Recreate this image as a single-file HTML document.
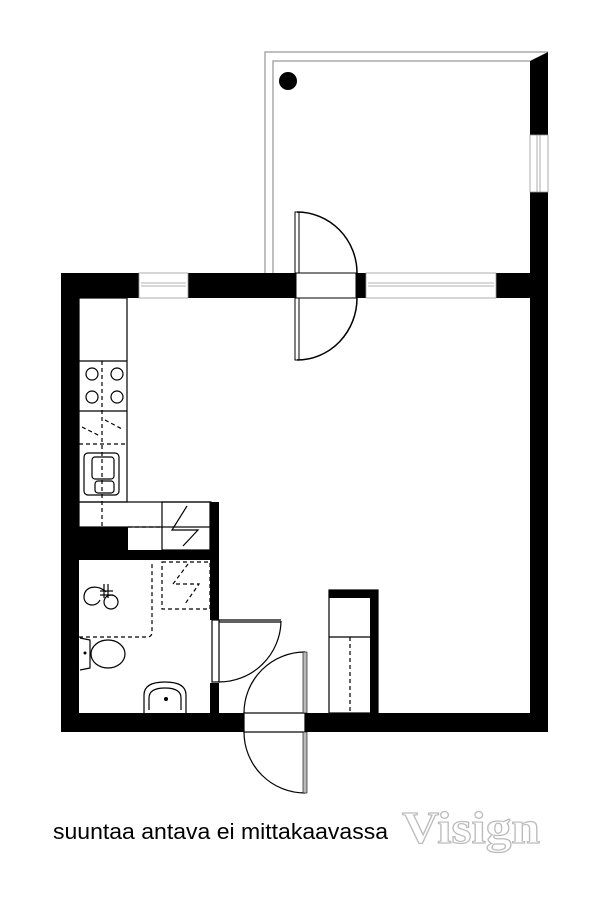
<!DOCTYPE html>
<html><head><meta charset="utf-8"><style>
html,body{margin:0;padding:0;background:#fff;}
svg{display:block}
</style></head><body>
<svg width="600" height="906" viewBox="0 0 600 906" xmlns="http://www.w3.org/2000/svg">
<rect width="600" height="906" fill="#fff"/>
<polyline points="265,273 265,52 548,52" fill="none" stroke="#aaa" stroke-width="1.5"/>
<polyline points="273,273 273,61 530,61" fill="none" stroke="#aaa" stroke-width="1.5"/>
<polygon points="530,61 548,52 548,135 530,135" fill="#000"/>
<rect x="530" y="192" width="18" height="540" fill="#000"/>
<rect x="530" y="135" width="18" height="57" fill="#fff" stroke="#999" stroke-width="0.8"/>
<line x1="537" y1="135" x2="537" y2="192" stroke="#999" stroke-width="0.8"/>
<line x1="540" y1="135" x2="540" y2="192" stroke="#999" stroke-width="0.8"/>
<circle cx="288" cy="81" r="9" fill="#000"/>
<rect x="61" y="273" width="78" height="25" fill="#000"/>
<rect x="188" y="273" width="108" height="25" fill="#000"/>
<rect x="356" y="273" width="10" height="25" fill="#000"/>
<rect x="496" y="273" width="40" height="25" fill="#000"/>
<rect x="61" y="273" width="18" height="459" fill="#000"/>
<rect x="61" y="713" width="183" height="19" fill="#000"/>
<rect x="305" y="713" width="243" height="19" fill="#000"/>
<g stroke="#999" stroke-width="0.8" fill="none">
<rect x="139" y="273" width="49" height="25"/>
<line x1="141" y1="283" x2="186" y2="283"/><line x1="141" y1="286" x2="186" y2="286"/>
<rect x="366" y="273" width="130" height="25"/>
<line x1="368" y1="283" x2="494" y2="283"/><line x1="368" y1="286" x2="494" y2="286"/>
</g>
<g stroke="#000" stroke-width="1.5" fill="none">
<rect x="296" y="273" width="60" height="25" stroke-width="1"/>
<rect x="295" y="212" width="4" height="61" stroke-width="1"/>
<path d="M297,212 A60,61 0 0 1 357,273"/>
<rect x="295" y="298" width="4" height="62" stroke-width="1"/>
<path d="M297,360 A60,62 0 0 0 357,298"/>
</g>
<g stroke="#000" stroke-width="1.2" fill="none">
<rect x="79" y="298" width="48" height="204"/>
<line x1="79" y1="361" x2="127" y2="361"/>
<line x1="79" y1="411" x2="127" y2="411"/>
<circle cx="92" cy="374" r="6"/><circle cx="117" cy="374" r="6"/>
<circle cx="92" cy="397" r="6"/><circle cx="117" cy="397" r="6"/>
<rect x="84" y="453" width="35" height="42" rx="4"/>
<rect x="92" y="457" width="22" height="22" rx="3"/>
<rect x="95" y="481" width="19" height="12" rx="3"/>
<rect x="79" y="502" width="132" height="25"/>
<rect x="162" y="502" width="48" height="48"/>
<polyline points="187,506 172,530 198,530 183,546"/>
</g>
<g stroke="#000" stroke-width="1.2" fill="none" stroke-dasharray="4,3">
<line x1="102" y1="361" x2="102" y2="527"/>
<line x1="79" y1="444" x2="127" y2="444"/>
<line x1="82" y1="427" x2="100" y2="436"/>
<line x1="105" y1="420" x2="122" y2="429"/>
<line x1="128" y1="527" x2="162" y2="527"/>
</g>
<rect x="79" y="527" width="49" height="23" fill="#000"/>
<rect x="210" y="502" width="9" height="118" fill="#000"/>
<rect x="79" y="550" width="140" height="10" fill="#000"/>
<rect x="210" y="683" width="9" height="30" fill="#000"/>
<g stroke="#000" stroke-width="1.2" fill="none" stroke-dasharray="4,3">
<path d="M79,637 L147,637 Q152,637 152,632 L152,562"/>
<rect x="162" y="562" width="48" height="47"/>
<polyline points="188,564 173,584 199,584 185,604"/>
</g>
<g stroke="#000" stroke-width="1.2" fill="none">
<path d="M106,592 C98,584 84,586 84,597 C84,606 96,608 100,600"/>
<circle cx="111" cy="602" r="7"/>
<line x1="100" y1="591" x2="113" y2="591"/><line x1="100" y1="595" x2="113" y2="595"/>
<line x1="104" y1="584" x2="104" y2="598"/><line x1="108" y1="584" x2="108" y2="598"/>
<path d="M80,638 L90,640 L90,668 L80,670"/>
<ellipse cx="108" cy="654" rx="17" ry="14"/>
<path d="M144,713 L144,695 Q144,682 165,682 Q186,682 186,695 L186,713"/>
<path d="M149,710 L149,698 Q149,688 165,688 Q181,688 181,698 L181,710"/>
<rect x="212" y="620" width="7" height="62"/>
<line x1="219" y1="620" x2="281" y2="620"/>
<line x1="219" y1="622" x2="281" y2="622"/>
<path d="M281,621 A62,62 0 0 1 219,682"/>
<rect x="329" y="590" width="49" height="123"/>
<line x1="329" y1="637" x2="370" y2="637"/>
<rect x="244" y="713" width="61" height="19"/>
<path d="M305,652 A61,61 0 0 0 244,713"/>
<path d="M244,732 A61,61 0 0 0 305,793"/>
</g>
<circle cx="85" cy="653" r="1.5" fill="#000"/>
<circle cx="166" cy="699" r="2" fill="#000"/>
<rect x="303" y="652" width="4" height="61" fill="#bbb" stroke="#000" stroke-width="0.6"/>
<rect x="303" y="732" width="4" height="61" fill="#bbb" stroke="#000" stroke-width="0.6"/>
<rect x="329" y="590" width="49" height="8" fill="#000"/>
<rect x="370" y="590" width="8" height="123" fill="#000"/>
<line x1="350" y1="637" x2="350" y2="713" stroke="#000" stroke-width="1.2" stroke-dasharray="4,3"/>
<text x="53" y="839" font-family="Liberation Sans, sans-serif" font-size="22" fill="#000" textLength="335" lengthAdjust="spacingAndGlyphs">suuntaa antava ei mittakaavassa</text>
<text x="402" y="843" font-family="Liberation Serif, serif" font-size="46" font-weight="bold" fill="#fff" stroke="#bbb" stroke-width="1.2" textLength="138" lengthAdjust="spacingAndGlyphs">Visign</text>
</svg>
</body></html>
